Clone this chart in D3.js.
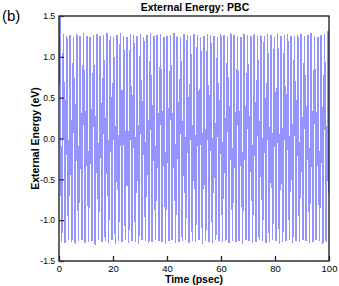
<!DOCTYPE html>
<html lang="en">
<head>
<meta charset="utf-8">
<script src="https://d3js.org/d3.v7.min.js"></script>
<style>
  body { margin: 0; background: #fff; }
  text { font-family: "Liberation Sans", Arial, sans-serif; }
</style>
</head>
<body>
<svg id="chart" width="339" height="286"></svg>
<script>
// each cycle's upper and lower turning point (eV)
const peakHigh = [1.24,1.27,1.25,1.26,1.24,1.27,1.25,1.28,1.25,1.24,1.26,1.27,1.25,1.26,1.29,1.25,1.24,1.26,1.28,1.25,
                  1.24,1.27,1.26,1.25,1.27,1.24,1.26,1.28,1.25,1.26,1.27,1.24,1.25,1.26,1.29,1.25,1.24,1.27,1.26,1.25,
                  1.27,1.26,1.24,1.25,1.27,1.26,1.25,1.24,1.27,1.26,1.25,1.28,1.26,1.25,1.24,1.27,1.26,1.25,1.27,1.24,
                  1.26,1.25,1.27,1.26,1.24,1.28,1.25,1.26,1.27,1.25,1.24,1.26,1.27,1.25,1.26,1.28,1.25,1.24,1.26,1.27,1.25];
const peakLow  = [-1.25,-1.27,-1.24,-1.26,-1.28,-1.25,-1.24,-1.27,-1.26,-1.25,-1.29,-1.24,-1.26,-1.25,-1.27,-1.24,-1.28,-1.25,-1.26,-1.24,
                  -1.27,-1.25,-1.26,-1.28,-1.24,-1.25,-1.27,-1.26,-1.24,-1.25,-1.26,-1.28,-1.25,-1.24,-1.27,-1.26,-1.25,-1.24,-1.27,-1.25,
                  -1.26,-1.24,-1.28,-1.25,-1.26,-1.27,-1.24,-1.25,-1.26,-1.25,-1.27,-1.24,-1.26,-1.25,-1.28,-1.24,-1.25,-1.27,-1.26,-1.24,
                  -1.25,-1.27,-1.26,-1.24,-1.25,-1.28,-1.26,-1.25,-1.24,-1.27,-1.25,-1.26,-1.24,-1.25,-1.27,-1.26,-1.24,-1.25,-1.28,-1.26,-1.25];
const startValue = 0.65;     // energy at t = 0
const firstPeak = 0.394;     // psec, time of the first upper turning point
const cyclePeriod = 1.24;    // psec between upper turning points

const xTicks = [0, 20, 40, 60, 80, 100];
const yTicks = [-1.5, -1.0, -0.5, 0.0, 0.5, 1.0, 1.5];

const svg = d3.select("#chart");
const x = d3.scaleLinear().domain([0, 100]).range([59, 329]);
const y = d3.scaleLinear().domain([-1.5, 1.5]).range([261, 16]);

// build the turning-point series
let series = [[0, startValue]];
const n = Math.min(peakHigh.length, peakLow.length);
for (let i = 0; i < n; i++) {
    series.push([firstPeak + i * cyclePeriod, peakHigh[i]]);
    series.push([firstPeak + (i + 0.5) * cyclePeriod, peakLow[i]]);
}

svg.append("clipPath").attr("id", "plotclip")
    .append("rect")
    .attr("x", x(0)).attr("y", y(1.5))
    .attr("width", x(100) - x(0)).attr("height", y(-1.5) - y(1.5));

const line = d3.line()
    .x(d => x(d[0]))
    .y(d => y(d[1]))
    .curve(d3.curveNatural);

// pixel-snapped trace gives the same moire bands as the original plot
svg.append("path")
    .datum(series)
    .attr("clip-path", "url(#plotclip)")
    .attr("fill", "none")
    .attr("stroke", "#9494ff")
    .attr("stroke-width", 1.45)
    .attr("shape-rendering", "crispEdges")
    .attr("d", line);

// frame
svg.append("rect")
    .attr("x", x(0)).attr("y", y(1.5))
    .attr("width", x(100) - x(0)).attr("height", y(-1.5) - y(1.5))
    .attr("fill", "none")
    .attr("stroke", "#000")
    .attr("stroke-width", 1.2);

// ticks inside the frame
const xAxis = d3.axisBottom(x).tickValues(xTicks).tickSizeInner(-5).tickSizeOuter(0).tickPadding(4)
    .tickFormat(d3.format("d"));
const gx = svg.append("g").attr("transform", `translate(0,${y(-1.5)})`).call(xAxis);
gx.select(".domain").remove();
gx.selectAll("line").attr("stroke", "#222").attr("stroke-width", 1.3);
gx.selectAll("text").attr("font-size", 9.5).attr("fill", "#000")
    .attr("font-family", "Liberation Sans, Arial, sans-serif");

const yAxis = d3.axisLeft(y).tickValues(yTicks).tickSizeInner(-5).tickSizeOuter(0).tickPadding(4)
    .tickFormat(d => d3.format(".1f")(d).replace("−", "-"));
const gy = svg.append("g").attr("transform", `translate(${x(0)},0)`).call(yAxis);
gy.select(".domain").remove();
gy.selectAll("line").attr("stroke", "#333").attr("stroke-width", 1.3);
gy.selectAll("text").attr("font-size", 8.5).attr("fill", "#000")
    .attr("font-family", "Liberation Sans, Arial, sans-serif");

// titles
svg.append("text")
    .attr("x", 195).attr("y", 11)
    .attr("text-anchor", "middle")
    .attr("font-size", 10.5).attr("font-weight", "bold")
    .text("External Energy: PBC");

svg.append("text")
    .attr("x", 2).attr("y", 21)
    .attr("font-size", 15)
    .text("(b)");

svg.append("text")
    .attr("x", 194).attr("y", 283)
    .attr("text-anchor", "middle")
    .attr("font-size", 10.5).attr("font-weight", "bold")
    .text("Time (psec)");

svg.append("text")
    .attr("transform", `translate(39,${y(0)}) rotate(-90)`)
    .attr("text-anchor", "middle")
    .attr("font-size", 10.5).attr("font-weight", "bold")
    .text("External Energy (eV)");
</script>
</body>
</html>
